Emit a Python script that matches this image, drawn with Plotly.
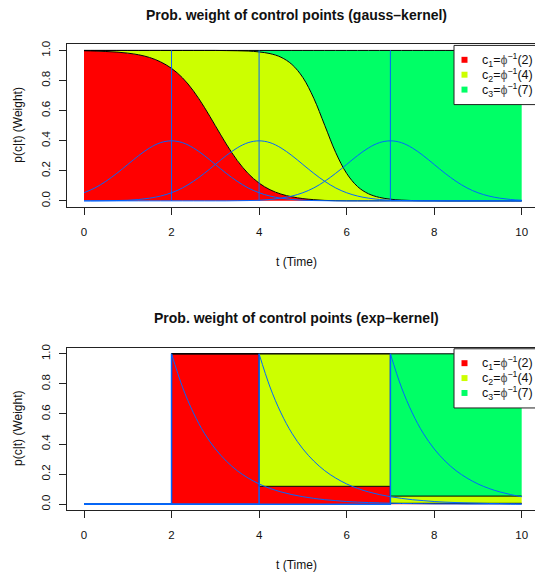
import plotly.graph_objects as go

# ---------------- data ----------------
t = [round(0.25 * i, 2) for i in range(41)]          # time grid 0..10
centers = [2, 4, 7]                                  # control points
fill_colors = ["#FF0000", "#CCFF00", "#00FF66"]
curve_color = "#0066FF"
legend_labels = [
    "c<sub>1</sub>=<span style='color:#555'>ϕ</span><sup>−1</sup>(2)",
    "c<sub>2</sub>=<span style='color:#555'>ϕ</span><sup>−1</sup>(4)",
    "c<sub>3</sub>=<span style='color:#555'>ϕ</span><sup>−1</sup>(7)",
]
x_ticks = [0, 2, 4, 6, 8, 10]
y_ticks = [0.0, 0.2, 0.4, 0.6, 0.8, 1.0]
y_ticktext = ["0.0", "0.2", "0.4", "0.6", "0.8", "1.0"]

# gauss kernel densities (read on the 0.25 grid)
gauss_c1 = [0.054, 0.086, 0.130, 0.183, 0.242, 0.301, 0.352, 0.387, 0.399, 0.387,
            0.352, 0.301, 0.242, 0.183, 0.130, 0.086, 0.054, 0.032, 0.018, 0.009,
            0.004, 0.002, 0.001, 0.000, 0.000, 0.000, 0.000, 0.000, 0.000, 0.000,
            0.000, 0.000, 0.000, 0.000, 0.000, 0.000, 0.000, 0.000, 0.000, 0.000, 0.000]
gauss_c2 = [0.000, 0.000, 0.001, 0.002, 0.004, 0.009, 0.018, 0.032, 0.054, 0.086,
            0.130, 0.183, 0.242, 0.301, 0.352, 0.387, 0.399, 0.387, 0.352, 0.301,
            0.242, 0.183, 0.130, 0.086, 0.054, 0.032, 0.018, 0.009, 0.004, 0.002,
            0.001, 0.000, 0.000, 0.000, 0.000, 0.000, 0.000, 0.000, 0.000, 0.000, 0.000]
gauss_c3 = [0.000, 0.000, 0.000, 0.000, 0.000, 0.000, 0.000, 0.000, 0.000, 0.000,
            0.000, 0.000, 0.000, 0.000, 0.001, 0.002, 0.004, 0.009, 0.018, 0.032,
            0.054, 0.086, 0.130, 0.183, 0.242, 0.301, 0.352, 0.387, 0.399, 0.387,
            0.352, 0.301, 0.242, 0.183, 0.130, 0.086, 0.054, 0.032, 0.018, 0.009, 0.004]
# stacked weights (gauss)
gauss_w1 = [0.998, 0.996, 0.993, 0.989, 0.982, 0.971, 0.953, 0.924, 0.881, 0.818,
            0.731, 0.622, 0.500, 0.378, 0.269, 0.182, 0.118, 0.074, 0.045, 0.027,
            0.015, 0.008, 0.003, 0.001, 0.000, 0.000, 0.000, 0.000, 0.000, 0.000,
            0.000, 0.000, 0.000, 0.000, 0.000, 0.000, 0.000, 0.000, 0.000, 0.000, 0.000]
gauss_w12 = [1.000, 1.000, 1.000, 1.000, 1.000, 1.000, 1.000, 1.000, 1.000, 1.000,
             1.000, 1.000, 1.000, 0.999, 0.998, 0.996, 0.990, 0.979, 0.955, 0.907,
             0.820, 0.682, 0.502, 0.322, 0.183, 0.095, 0.047, 0.023, 0.011, 0.005,
             0.002, 0.001, 0.001, 0.000, 0.000, 0.000, 0.000, 0.000, 0.000, 0.000, 0.000]
gauss_w123 = [1.0] * 41

# exp kernel: step weights at breakpoints
exp_breaks = [0, 2, 4, 7, 10]
exp_w1 = [0.0, 1.0, 0.119, 0.006, 0.006]
exp_w12 = [0.0, 1.0, 1.0, 0.054, 0.054]
exp_w123 = [0.0, 1.0, 1.0, 1.0, 1.0]
# exp kernel curves (from their control point on)
exp_c1 = [1.000, 0.779, 0.607, 0.472, 0.368, 0.287, 0.223, 0.174, 0.135, 0.105,
          0.082, 0.064, 0.050, 0.039, 0.030, 0.024, 0.018, 0.014, 0.011, 0.009,
          0.007, 0.005, 0.004, 0.003, 0.002, 0.002, 0.002, 0.001, 0.001, 0.001,
          0.001, 0.000, 0.000]
exp_c2 = [1.000, 0.779, 0.607, 0.472, 0.368, 0.287, 0.223, 0.174, 0.135, 0.105,
          0.082, 0.064, 0.050, 0.039, 0.030, 0.024, 0.018, 0.014, 0.011, 0.009,
          0.007, 0.005, 0.004, 0.003, 0.002]
exp_c3 = [1.000, 0.779, 0.607, 0.472, 0.368, 0.287, 0.223, 0.174, 0.135, 0.105,
          0.082, 0.064, 0.050]

titles = ["Prob. weight of control points (gauss\u2013kernel)",
          "Prob. weight of control points (exp\u2013kernel)"]

# ---------------- layout helpers ----------------
W, H = 535, 574
FONT = "Liberation Sans, Arial, Helvetica, sans-serif"
def px(x): return x / W
def py(y): return 1 - y / H

OFF = 305.5  # vertical offset of second panel (px)
box_top, box_bot = 40.7, 204.3

fig = go.Figure()

# ---- panel 1 (gauss) ----
for yv, fc, mode_fill in [(gauss_w1, fill_colors[0], "tozeroy"),
                          (gauss_w12, fill_colors[1], "tonexty"),
                          (gauss_w123, fill_colors[2], "tonexty")]:
    fig.add_trace(go.Scatter(x=t, y=yv, mode="lines", fill=mode_fill, fillcolor=fc,
                             line=dict(color="black", width=1, shape="spline"),
                             xaxis="x", yaxis="y", hoverinfo="skip"))
vx, vy = [], []
for c in centers:
    vx += [c, c, None]
    vy += [0, 1, None]
fig.add_trace(go.Scatter(x=vx, y=vy, mode="lines",
                         line=dict(color=curve_color, width=1), xaxis="x", yaxis="y"))
for yv in [gauss_c1, gauss_c2, gauss_c3]:
    fig.add_trace(go.Scatter(x=t, y=yv, mode="lines",
                             line=dict(color=curve_color, width=1, shape="spline"),
                             xaxis="x", yaxis="y"))

# ---- panel 2 (exp) ----
for yv, fc, mode_fill in [(exp_w1, fill_colors[0], "tozeroy"),
                          (exp_w12, fill_colors[1], "tonexty"),
                          (exp_w123, fill_colors[2], "tonexty")]:
    fig.add_trace(go.Scatter(x=exp_breaks, y=yv, mode="lines", fill=mode_fill, fillcolor=fc,
                             line=dict(color="black", width=1, shape="hv"),
                             xaxis="x2", yaxis="y2", hoverinfo="skip"))
for c, vals in zip(centers, [exp_c1, exp_c2, exp_c3]):
    fig.add_trace(go.Scatter(x=[t[0], c, c], y=[0, 0, vals[0]], mode="lines",
                             line=dict(color=curve_color, width=1.5),
                             xaxis="x2", yaxis="y2"))
    xs = [x for x in t if x >= c]
    fig.add_trace(go.Scatter(x=xs, y=vals, mode="lines",
                             line=dict(color=curve_color, width=1, shape="spline"),
                             xaxis="x2", yaxis="y2"))

xrange = [-0.4, 10.304]
common_x = dict(range=xrange, tickvals=x_ticks, ticks="outside", ticklen=7,
                tickcolor="#222", tickwidth=1, showline=True, linecolor="#222",
                linewidth=1, mirror=True, showgrid=False, zeroline=False,
                tickfont=dict(family=FONT, size=11.5, color="#111"),
                ticklabelstandoff=7, fixedrange=True)
common_y = dict(range=[-0.04, 1.04], tickvals=y_ticks, ticktext=y_ticktext,
                ticks="outside", ticklen=7, tickcolor="#222", tickwidth=1,
                showline=True, linecolor="#222", linewidth=1, mirror=False,
                showgrid=False, zeroline=False, tickangle=-90,
                tickfont=dict(family=FONT, size=11.5, color="#111"),
                ticklabelstandoff=4, fixedrange=True)

xd = [px(66.5), 1.0]
fig.update_layout(
    width=W, height=H, margin=dict(l=0, r=0, t=0, b=0),
    paper_bgcolor="white", plot_bgcolor="white", showlegend=False,
    xaxis=dict(domain=xd, anchor="y", **common_x),
    yaxis=dict(domain=[py(box_bot), py(box_top)], anchor="x", **common_y),
    xaxis2=dict(domain=xd, anchor="y2", **common_x),
    yaxis2=dict(domain=[py(box_bot + OFF), py(box_top + OFF)], anchor="x2", **common_y),
)

shapes, annotations = [], []
for k in range(2):
    off = k * OFF
    # legend box
    shapes.append(dict(type="rect", xref="paper", yref="paper",
                       x0=px(454), x1=px(560), y0=py(101.3 + off), y1=py(41.7 + off),
                       line=dict(color="#222", width=1), fillcolor="white", layer="above"))
    for i, (fc, lab) in enumerate(zip(fill_colors, legend_labels)):
        yc = 41.7 + off + 14.5 + 15 * i
        shapes.append(dict(type="rect", xref="paper", yref="paper",
                           x0=px(461.5), x1=px(467.5), y0=py(yc + 3), y1=py(yc - 3),
                           line=dict(width=0), fillcolor=fc, layer="above"))
        annotations.append(dict(xref="paper", yref="paper", x=px(480), y=py(yc),
                                xanchor="left", yanchor="middle", showarrow=False,
                                text=lab, font=dict(family=FONT, size=12.5, color="#111")))
    # titles
    annotations.append(dict(xref="paper", yref="paper", x=px(296), y=py(11 + off),
                            xanchor="center", yanchor="middle", showarrow=False,
                            text="<b>" + titles[k] + "</b>",
                            font=dict(family=FONT, size=14, color="#111")))
    annotations.append(dict(xref="paper", yref="paper", x=px(296), y=py(259.5 + off),
                            xanchor="center", yanchor="middle", showarrow=False,
                            text="t (Time)", font=dict(family=FONT, size=12, color="#111")))
    annotations.append(dict(xref="paper", yref="paper", x=px(18), y=py(121.5 + off),
                            xanchor="center", yanchor="middle", showarrow=False, textangle=-90,
                            text="p(c|t) (Weight)", font=dict(family=FONT, size=12, color="#111")))

fig.update_layout(shapes=shapes, annotations=annotations)
fig.write_html("out.html", config={"displayModeBar": False, "staticPlot": True},
               post_script="document.body.style.margin='0px';document.body.style.overflow='hidden';")
